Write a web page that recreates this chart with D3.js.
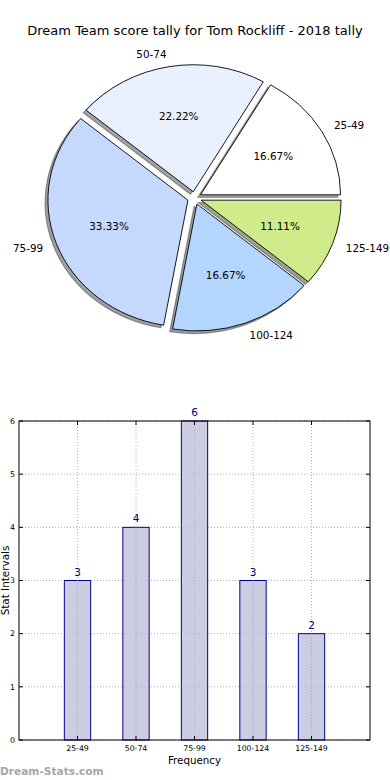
<!DOCTYPE html>
<html>
<head>
<meta charset="utf-8">
<script src="https://cdn.jsdelivr.net/npm/d3@7"></script>
<style>
  html, body { margin: 0; padding: 0; background: #fff; }
  svg { display: block; font-family: "DejaVu Sans", sans-serif; }
</style>
</head>
<body>
<svg id="chart" width="390" height="780"></svg>
<script>
// ---- data ----
const categories = ["25-49", "50-74", "75-99", "100-124", "125-149"];
const counts = [3, 4, 6, 3, 2];
const sliceColors = ["#ffffff", "#eaf1fe", "#c5d8fe", "#b4d5fe", "#cfeb8a"];
const yTicks = [0, 1, 2, 3, 4, 5, 6];
const title = "Dream Team score tally for Tom Rockliff - 2018 tally";

const svg = d3.select("#chart");

// ---- title ----
svg.append("text")
  .attr("x", 195).attr("y", 35)
  .attr("text-anchor", "middle")
  .attr("font-size", 13)
  .attr("fill", "#000")
  .text(title);

// ---- pie ----
const cx = 194.5, cy = 198, rx = 140, ry = 127;
const explode = 0.05, shadowOff = 0.02;
const total = d3.sum(counts);
const pie = d3.pie().sort(null)
  .startAngle(Math.PI / 2)
  .endAngle(Math.PI / 2 - 2 * Math.PI);
const arcs = pie(counts);
const arc = d3.arc().innerRadius(0).outerRadius(rx);

const pg = svg.append("g")
  .attr("transform", `translate(${cx},${cy}) scale(1,${ry / rx})`);

function mid(d) { return (d.startAngle + d.endAngle) / 2; }
function offs(d) {
  const a = mid(d);
  return [Math.sin(a) * explode * rx, -Math.cos(a) * explode * rx];
}
function shade(i) {
  const c = d3.rgb(sliceColors[i]);
  return d3.rgb(c.r * 0.3, c.g * 0.3, c.b * 0.3).toString();
}

// shadows (all behind)
pg.selectAll("path.shadow").data(arcs).enter().append("path")
  .attr("class", "shadow")
  .attr("d", arc)
  .attr("transform", d => {
    const o = offs(d);
    return `translate(${o[0] - shadowOff * rx},${o[1] + shadowOff * rx})`;
  })
  .attr("fill", (d, i) => shade(i))
  .attr("fill-opacity", 0.5)
  .attr("stroke", (d, i) => shade(i))
  .attr("stroke-opacity", 0.5)
  .attr("stroke-width", 1.2)
  .attr("vector-effect", "non-scaling-stroke");

// slices
pg.selectAll("path.slice").data(arcs).enter().append("path")
  .attr("class", "slice")
  .attr("d", arc)
  .attr("transform", d => { const o = offs(d); return `translate(${o[0]},${o[1]})`; })
  .attr("fill", (d, i) => sliceColors[i])
  .attr("stroke", "#000")
  .attr("stroke-width", 0.9)
  .attr("vector-effect", "non-scaling-stroke");

// labels
arcs.forEach((d, i) => {
  const a = mid(d);
  const s = Math.sin(a), c = Math.cos(a);
  const lx = cx + (1.1 + explode) * rx * s;
  const ly = cy - (1.1 + explode) * ry * c;
  svg.append("text")
    .attr("x", lx).attr("y", ly).attr("dy", "0.36em")
    .attr("text-anchor", s > 0 ? "start" : "end")
    .attr("font-size", 10.4)
    .text(categories[i]);
  const px = cx + (0.6 + explode) * rx * s;
  const py = cy - (0.6 + explode) * ry * c;
  svg.append("text")
    .attr("x", px).attr("y", py).attr("dy", "0.36em")
    .attr("text-anchor", "middle")
    .attr("font-size", 10.4)
    .text((counts[i] / total * 100).toFixed(2) + "%");
});

// ---- bar chart ----
const L = 19, R = 370, T = 421, B = 740;
const x = d3.scaleLinear().domain([-1, 5]).range([L, R]);
const y = d3.scaleLinear().domain([0, 6]).range([B, T]);
const bw = 0.45;

const bg = svg.append("g");

// grid
bg.selectAll("line.hgrid").data(yTicks).enter().append("line")
  .attr("x1", L).attr("x2", R)
  .attr("y1", d => y(d)).attr("y2", d => y(d))
  .attr("stroke", "#b0b0b0").attr("stroke-width", 1)
  .attr("stroke-dasharray", "1,2");
bg.selectAll("line.vgrid").data(categories).enter().append("line")
  .attr("x1", (d, i) => x(i)).attr("x2", (d, i) => x(i))
  .attr("y1", T).attr("y2", B)
  .attr("stroke", "#b0b0b0").attr("stroke-width", 1)
  .attr("stroke-dasharray", "1,2");

// bars
bg.selectAll("rect.bar").data(counts).enter().append("rect")
  .attr("x", (d, i) => x(i - bw / 2))
  .attr("y", d => y(d))
  .attr("width", x(bw) - x(0))
  .attr("height", d => y(0) - y(d))
  .attr("fill", "#bfbfdc").attr("fill-opacity", 0.8)
  .attr("stroke", "#00008b").attr("stroke-width", 1);

// grid visible through bars
bg.selectAll("line.vgrid2").data(counts).enter().append("line")
  .attr("x1", (d, i) => x(i)).attr("x2", (d, i) => x(i))
  .attr("y1", d => y(d)).attr("y2", B)
  .attr("stroke", "#a8a8b8").attr("stroke-width", 1)
  .attr("stroke-dasharray", "1,2");

// value labels
bg.selectAll("text.val").data(counts).enter().append("text")
  .attr("x", (d, i) => x(i))
  .attr("y", d => y(d) - 5)
  .attr("text-anchor", "middle")
  .attr("font-size", 10.5)
  .attr("fill", "#000080")
  .text(d => d);

// frame
bg.append("rect")
  .attr("x", L).attr("y", T).attr("width", R - L).attr("height", B - T)
  .attr("fill", "none").attr("stroke", "#000").attr("stroke-width", 1);

// ticks (inside, all sides)
yTicks.forEach(t => {
  bg.append("line").attr("x1", L).attr("x2", L + 4).attr("y1", y(t)).attr("y2", y(t)).attr("stroke", "#000");
  bg.append("line").attr("x1", R - 4).attr("x2", R).attr("y1", y(t)).attr("y2", y(t)).attr("stroke", "#000");
});
categories.forEach((c, i) => {
  bg.append("line").attr("x1", x(i)).attr("x2", x(i)).attr("y1", B - 4).attr("y2", B).attr("stroke", "#000");
  bg.append("line").attr("x1", x(i)).attr("x2", x(i)).attr("y1", T).attr("y2", T + 4).attr("stroke", "#000");
});

// y tick labels
bg.selectAll("text.ytl").data(yTicks).enter().append("text")
  .attr("x", L - 4).attr("y", d => y(d)).attr("dy", "0.35em")
  .attr("text-anchor", "end")
  .attr("font-size", 7.8)
  .text(d => d);

// x tick labels
bg.selectAll("text.xtl").data(categories).enter().append("text")
  .attr("x", (d, i) => x(i)).attr("y", B + 11)
  .attr("text-anchor", "middle")
  .attr("font-size", 7.8)
  .text(d => d);

// axis labels
svg.append("text")
  .attr("x", (L + R) / 2).attr("y", 764)
  .attr("text-anchor", "middle")
  .attr("font-size", 10.3)
  .text("Frequency");
svg.append("text")
  .attr("transform", `translate(8.5,${(T + B) / 2}) rotate(-90)`)
  .attr("text-anchor", "middle")
  .attr("font-size", 10.4)
  .text("Stat Intervals");

// watermark
svg.append("text")
  .attr("x", 0).attr("y", 775)
  .attr("font-size", 10.6)
  .attr("font-weight", "bold")
  .attr("fill", "#a6a6a6")
  .text("Dream-Stats.com");
</script>
</body>
</html>
